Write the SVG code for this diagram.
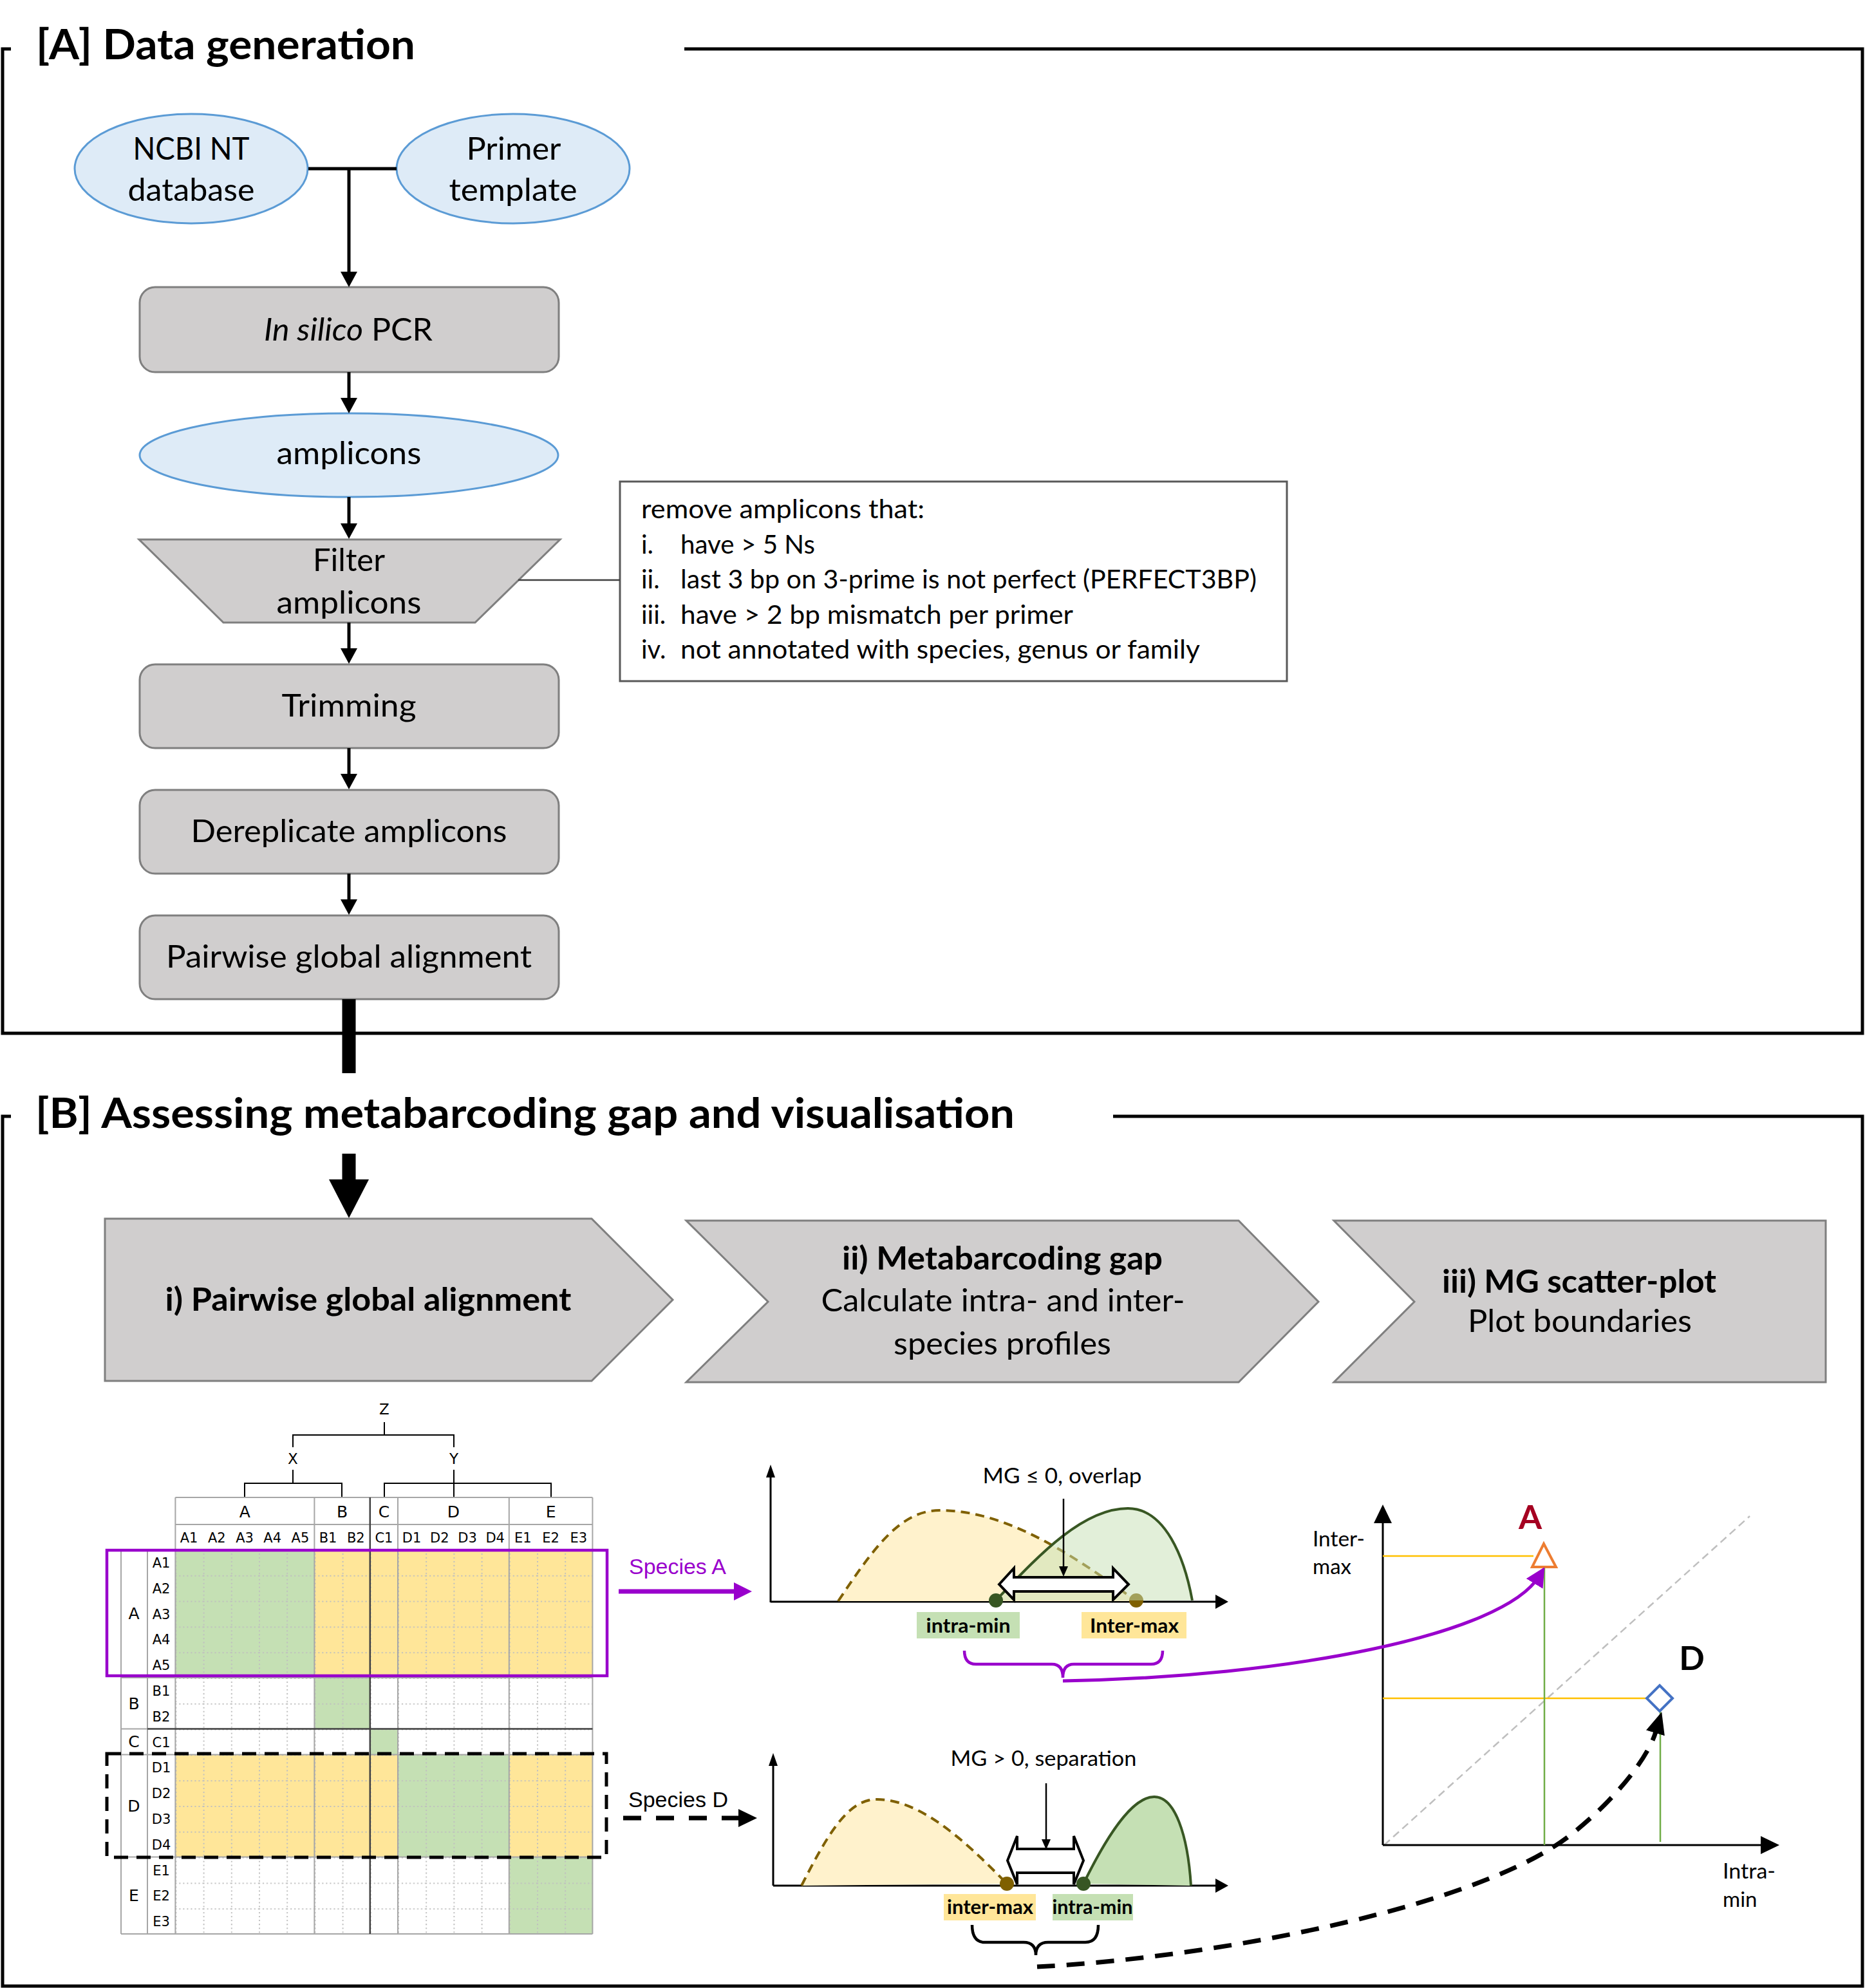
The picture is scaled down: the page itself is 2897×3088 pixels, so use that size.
<svg xmlns="http://www.w3.org/2000/svg" width="2897" height="3088" viewBox="0 0 2897 3088">
<style>
.f{font-family:Lato,'Open Sans',sans-serif;fill:#000}
.b{font-weight:bold}
.c{text-anchor:middle}
.n48{font-size:48px}
.frame{fill:none;stroke:#000;stroke-width:5}
.ell{fill:#DEEBF7;stroke:#5B9BD5;stroke-width:3}
.box{fill:#D0CECE;stroke:#7F7F7F;stroke-width:3}
.ln{stroke:#000;stroke-width:5;fill:none}
.hd{fill:#000}
.mx{font-family:'DejaVu Sans',sans-serif;font-size:21px;text-anchor:middle;fill:#000}
.mz{font-family:'DejaVu Sans',sans-serif;font-size:23px;text-anchor:middle;fill:#000}
.mg{font-family:'DejaVu Sans',sans-serif;font-size:25px;text-anchor:middle;fill:#000}
.gl{stroke:#A6A6A6;stroke-width:2;fill:none}
.dk{stroke:#404040;stroke-width:2.5;fill:none}
.ax{stroke:#000;stroke-width:3;fill:none}
.ar{font-family:'Liberation Sans',Arial,sans-serif;font-size:33px}
.lab{font-size:30px;font-weight:bold}
.t33{font-size:33px}
</style>
<defs>
<pattern id="grid" x="272.4" y="2407" width="43.2" height="39.8" patternUnits="userSpaceOnUse">
<path d="M0,1 H43.2 M1,0 V39.8" stroke="#BFBFBF" stroke-width="2" stroke-dasharray="2 4" fill="none"/>
</pattern>
<marker id="mp" markerUnits="userSpaceOnUse" markerWidth="30" markerHeight="30" viewBox="0 0 30 30" refX="14" refY="15" orient="auto">
<path d="M0,0 L30,15 L0,30 Z" fill="#9900CC"/>
</marker>
<marker id="mk" markerUnits="userSpaceOnUse" markerWidth="34" markerHeight="30" viewBox="0 0 34 30" refX="2" refY="15" orient="auto">
<path d="M0,0 L34,15 L0,30 Z" fill="#000"/>
</marker>
</defs>
<rect width="2897" height="3088" fill="#fff"/>

<!-- Frame A -->
<g id="frameA">
<path class="frame" d="M17,76 H4 V1605 H2893 V76 H1063"/>
<text class="f b" x="56" y="92" font-size="65" textLength="589" lengthAdjust="spacingAndGlyphs">[A] Data generation</text>
</g>

<g id="node-ncbi">
<ellipse class="ell" cx="297" cy="262" rx="181" ry="85"/>
<text class="f c n48" x="297" y="248" textLength="181" lengthAdjust="spacingAndGlyphs">NCBI NT</text>
<text class="f c n48" x="297" y="312" textLength="197" lengthAdjust="spacingAndGlyphs">database</text>
</g>
<g id="node-primer">
<ellipse class="ell" cx="797" cy="262" rx="181" ry="85"/>
<text class="f c n48" x="798" y="248" textLength="147" lengthAdjust="spacingAndGlyphs">Primer</text>
<text class="f c n48" x="797" y="312" textLength="199" lengthAdjust="spacingAndGlyphs">template</text>
</g>
<g id="node-pcr">
<rect class="box" x="217" y="446" width="651" height="132" rx="24"/>
<text class="f c n48" x="541" y="529" textLength="262" lengthAdjust="spacingAndGlyphs"><tspan font-style="italic">In silico</tspan> PCR</text>
</g>
<g id="node-amplicons">
<ellipse class="ell" cx="542" cy="707" rx="325" ry="65"/>
<text class="f c n48" x="542" y="721" textLength="225" lengthAdjust="spacingAndGlyphs">amplicons</text>
</g>
<g id="node-filter">
<polygon class="box" points="216,838 870,838 738,967 347,967"/>
<text class="f c n48" x="542" y="887" textLength="112" lengthAdjust="spacingAndGlyphs">Filter</text>
<text class="f c n48" x="542" y="953" textLength="225" lengthAdjust="spacingAndGlyphs">amplicons</text>
</g>
<g id="node-filter-note">
<rect x="963" y="748" width="1036" height="310" fill="#fff" stroke="#595959" stroke-width="3"/>
<g class="f" font-size="40">
<text x="996" y="805" textLength="440" lengthAdjust="spacingAndGlyphs">remove amplicons that:</text>
<text x="996" y="860">i.</text>
<text x="1057" y="860" textLength="209" lengthAdjust="spacingAndGlyphs">have &gt; 5 Ns</text>
<text x="996" y="914">ii.</text>
<text x="1057" y="914" textLength="895" lengthAdjust="spacingAndGlyphs">last 3 bp on 3-prime is not perfect (PERFECT3BP)</text>
<text x="996" y="969">iii.</text>
<text x="1057" y="969" textLength="610" lengthAdjust="spacingAndGlyphs">have &gt; 2 bp mismatch per primer</text>
<text x="996" y="1023">iv.</text>
<text x="1057" y="1023" textLength="807" lengthAdjust="spacingAndGlyphs">not annotated with species, genus or family</text>
</g>
</g>
<g id="node-trimming">
<rect class="box" x="217" y="1032" width="651" height="130" rx="24"/>
<text class="f c n48" x="542" y="1113" textLength="209" lengthAdjust="spacingAndGlyphs">Trimming</text>
</g>
<g id="node-dereplicate">
<rect class="box" x="217" y="1227" width="651" height="130" rx="24"/>
<text class="f c n48" x="542" y="1308" textLength="491" lengthAdjust="spacingAndGlyphs">Dereplicate amplicons</text>
</g>
<g id="node-pairwise">
<rect class="box" x="217" y="1422" width="651" height="130" rx="24"/>
<text class="f c n48" x="542" y="1503" textLength="568" lengthAdjust="spacingAndGlyphs">Pairwise global alignment</text>
</g>

<!-- Frame B -->
<g id="frameB">
<path class="frame" d="M17,1734 H4 V3085 H2893 V1734 H1729"/>
<text class="f b" x="55" y="1752" font-size="65" textLength="1521" lengthAdjust="spacingAndGlyphs">[B] Assessing metabarcoding gap and visualisation</text>
</g>

<g id="node-step1">
<polygon class="box" points="163,1893 919,1893 1045,2019 919,2145 163,2145"/>
<text class="f b c" x="572" y="2036" font-size="49" textLength="631" lengthAdjust="spacingAndGlyphs">i) Pairwise global alignment</text>
</g>
<g id="node-step2">
<polygon class="box" points="1066,1896 1924,1896 2048,2022 1924,2147 1066,2147 1193,2022"/>
<text class="f b c" x="1557" y="1972" font-size="49" textLength="498" lengthAdjust="spacingAndGlyphs">ii) Metabarcoding gap</text>
<text class="f c" x="1558" y="2037" font-size="49" textLength="565" lengthAdjust="spacingAndGlyphs">Calculate intra- and inter-</text>
<text class="f c" x="1557" y="2104" font-size="49" textLength="338" lengthAdjust="spacingAndGlyphs">species profiles</text>
</g>
<g id="node-step3">
<polygon class="box" points="2072,1896 2836,1896 2836,2147 2072,2147 2197,2022"/>
<text class="f b c" x="2453" y="2008" font-size="49" textLength="426" lengthAdjust="spacingAndGlyphs">iii) MG scatter-plot</text>
<text class="f c" x="2454" y="2069" font-size="49" textLength="348" lengthAdjust="spacingAndGlyphs">Plot boundaries</text>
</g>

<!-- Matrix -->
<g id="matrix">
<g stroke="#000" stroke-width="2" fill="none">
<path d="M597,2209 V2229 M455,2248 V2229 H705 V2248 M455,2283 V2304 M380,2325 V2304 H531 V2325 M705,2283 V2325 M597,2325 V2304 H856 V2325"/>
</g>
<text class="mz" x="597" y="2197">Z</text>
<text class="mz" x="455" y="2274">X</text>
<text class="mz" x="705" y="2274">Y</text>
<g stroke="none">
<rect x="272.4" y="2407" width="216" height="199" fill="#C5E0B4"/>
<rect x="488.4" y="2407" width="432" height="199" fill="#FFE699"/>
<rect x="488.4" y="2606" width="86.4" height="79.6" fill="#C5E0B4"/>
<rect x="574.8" y="2685.6" width="43.2" height="39.8" fill="#C5E0B4"/>
<rect x="272.4" y="2725.4" width="345.6" height="159.2" fill="#FFE699"/>
<rect x="618" y="2725.4" width="172.8" height="159.2" fill="#C5E0B4"/>
<rect x="790.8" y="2725.4" width="129.6" height="159.2" fill="#FFE699"/>
<rect x="790.8" y="2884.6" width="129.6" height="119.4" fill="#C5E0B4"/>
</g>
<rect x="272.4" y="2407" width="648" height="597" fill="url(#grid)"/>
<path class="gl" d="M272.4,2326 H920.4 M272.4,2368 H920.4 M272.4,2326 V3004 M488.4,2326 V3004 M618,2326 V3004 M790.8,2326 V3004 M920.4,2326 V3004 M188,2407 V3004 M229,2407 V3004 M188,2606 H920.4 M188,2725.4 H920.4 M188,2884.6 H920.4 M188,3004 H920.4 M188,2685.6 H229"/>
<path class="dk" d="M574.8,2326 V3004 M229,2685.6 H920.4"/>
<g>
<text class="mg" x="380.4" y="2357">A</text>
<text class="mg" x="531.6" y="2357">B</text>
<text class="mg" x="596.4" y="2357">C</text>
<text class="mg" x="704.4" y="2357">D</text>
<text class="mg" x="855.6" y="2357">E</text>
<text class="mx" x="293.6" y="2396">A1</text>
<text class="mx" x="336.8" y="2396">A2</text>
<text class="mx" x="380" y="2396">A3</text>
<text class="mx" x="423.2" y="2396">A4</text>
<text class="mx" x="466.4" y="2396">A5</text>
<text class="mx" x="509.6" y="2396">B1</text>
<text class="mx" x="552.8" y="2396">B2</text>
<text class="mx" x="596.4" y="2396">C1</text>
<text class="mx" x="639.6" y="2396">D1</text>
<text class="mx" x="682.8" y="2396">D2</text>
<text class="mx" x="726" y="2396">D3</text>
<text class="mx" x="769.2" y="2396">D4</text>
<text class="mx" x="812.4" y="2396">E1</text>
<text class="mx" x="855.6" y="2396">E2</text>
<text class="mx" x="898.8" y="2396">E3</text>
<text class="mg" x="208" y="2515">A</text>
<text class="mg" x="208" y="2655">B</text>
<text class="mg" x="208" y="2714">C</text>
<text class="mg" x="208" y="2814">D</text>
<text class="mg" x="208" y="2953">E</text>
<text class="mx" x="250.5" y="2435">A1</text>
<text class="mx" x="250.5" y="2475">A2</text>
<text class="mx" x="250.5" y="2515">A3</text>
<text class="mx" x="250.5" y="2554">A4</text>
<text class="mx" x="250.5" y="2594">A5</text>
<text class="mx" x="250.5" y="2634">B1</text>
<text class="mx" x="250.5" y="2674">B2</text>
<text class="mx" x="250.5" y="2714">C1</text>
<text class="mx" x="250.5" y="2753">D1</text>
<text class="mx" x="250.5" y="2793">D2</text>
<text class="mx" x="250.5" y="2833">D3</text>
<text class="mx" x="250.5" y="2873">D4</text>
<text class="mx" x="250.5" y="2913">E1</text>
<text class="mx" x="250.5" y="2952">E2</text>
<text class="mx" x="250.5" y="2992">E3</text>
</g>
<rect x="166" y="2408" width="777" height="195" fill="none" stroke="#9900CC" stroke-width="4.5"/>
<rect x="166" y="2724" width="776" height="161" fill="none" stroke="#000" stroke-width="5" stroke-dasharray="22 13"/>
</g>

<!-- Plot 1 -->
<g id="plot1">
<path class="ax" d="M1197,2489 V2293 M1197,2488 H1890"/>
<polygon class="hd" points="1197,2275 1190,2295 1204,2295"/>
<polygon class="hd" points="1908,2488 1888,2477 1888,2499"/>
<path d="M1302,2487 C1360,2400 1400,2346 1460,2346 C1560,2346 1660,2410 1765,2487 Z" fill="#FFF2CC"/>
<path d="M1302,2487 C1360,2400 1400,2346 1460,2346 C1560,2346 1660,2410 1765,2487" fill="none" stroke="#7F6000" stroke-width="4" stroke-dasharray="14 9"/>
<circle cx="1765" cy="2486" r="11" fill="#7F6000"/>
<path d="M1547,2486 C1610,2420 1680,2343 1752,2343 C1810,2343 1840,2420 1852,2486 Z" fill="#C5E0B4" fill-opacity="0.5"/>
<path d="M1547,2486 C1610,2420 1680,2343 1752,2343 C1810,2343 1840,2420 1852,2486" fill="none" stroke="#385723" stroke-width="4"/>
<circle cx="1547" cy="2486" r="11" fill="#375623"/>
<polygon points="1552,2461 1575,2436 1575,2450 1729,2450 1729,2436 1753,2461 1729,2485 1729,2472 1575,2472 1575,2485" fill="#fff" stroke="#000" stroke-width="4" stroke-linejoin="miter"/>
<path d="M1652,2328 V2436" stroke="#000" stroke-width="2.5"/>
<polygon class="hd" points="1652,2449 1645,2433 1659,2433"/>
<text class="f c t33" x="1650" y="2304" textLength="247" lengthAdjust="spacingAndGlyphs">MG ≤ 0, overlap</text>
<rect x="1424" y="2504" width="160" height="41" fill="#C5E0B4"/>
<text class="f c lab" x="1504" y="2536" textLength="131" lengthAdjust="spacingAndGlyphs">intra-min</text>
<rect x="1680" y="2504" width="163" height="41" fill="#FFE699"/>
<text class="f c lab" x="1762" y="2536" textLength="138" lengthAdjust="spacingAndGlyphs">Inter-max</text>
<path d="M1498,2564 Q1498,2585 1516,2585 H1634 Q1651,2585 1651,2606 Q1651,2585 1668,2585 H1788 Q1806,2585 1806,2564" fill="none" stroke="#9900CC" stroke-width="4.5"/>
</g>

<!-- Plot 2 -->
<g id="plot2">
<path class="ax" d="M1201,2929 V2740 M1201,2929 H1890"/>
<polygon class="hd" points="1201,2723 1194,2743 1208,2743"/>
<polygon class="hd" points="1908,2929 1888,2918 1888,2940"/>
<path d="M1245,2929 C1290,2840 1320,2795 1362,2795 C1430,2795 1500,2860 1564,2926 Z" fill="#FFF2CC"/>
<path d="M1245,2929 C1290,2840 1320,2795 1362,2795 C1430,2795 1500,2860 1564,2926" fill="none" stroke="#7F6000" stroke-width="4" stroke-dasharray="14 9"/>
<path d="M1683,2926 C1730,2830 1765,2791 1793,2791 C1825,2791 1845,2850 1850,2929 Z" fill="#C5E0B4"/>
<path d="M1683,2926 C1730,2830 1765,2791 1793,2791 C1825,2791 1845,2850 1850,2929" fill="none" stroke="#385723" stroke-width="4"/>
<circle cx="1564" cy="2926" r="11" fill="#7F6000"/>
<circle cx="1683" cy="2926" r="11" fill="#375623"/>
<polygon points="1565,2890 1580,2852 1580,2872 1668,2872 1668,2852 1683,2890 1668,2927 1668,2909 1580,2909 1580,2927" fill="#fff" stroke="#000" stroke-width="4"/>
<path d="M1625,2770 V2860" stroke="#000" stroke-width="2.5"/>
<polygon class="hd" points="1625,2873 1618,2857 1632,2857"/>
<text class="f c t33" x="1621" y="2743" textLength="289" lengthAdjust="spacingAndGlyphs">MG &gt; 0, separation</text>
<rect x="1466" y="2942" width="143" height="41" fill="#FFE699"/>
<text class="f c lab" x="1538" y="2973" textLength="134" lengthAdjust="spacingAndGlyphs">inter-max</text>
<rect x="1635" y="2942" width="125" height="41" fill="#C5E0B4"/>
<text class="f c lab" x="1697" y="2973" textLength="125" lengthAdjust="spacingAndGlyphs">intra-min</text>
<path d="M1510,2990 Q1510,3017 1530,3017 H1590 Q1609,3017 1609,3037 Q1609,3017 1628,3017 H1686 Q1706,3017 1706,2990" fill="none" stroke="#000" stroke-width="4.5"/>
</g>

<!-- Scatter plot -->
<g id="scatter">
<path d="M2150,2866 L2718,2355" stroke="#BFBFBF" stroke-width="2.5" stroke-dasharray="12 7"/>
<path class="ax" d="M2148,2866 V2362 M2148,2866 H2740"/>
<polygon class="hd" points="2148,2337 2134,2366 2162,2366"/>
<polygon class="hd" points="2764,2866 2735,2852 2735,2880"/>
<path d="M2148,2417 H2382 M2148,2638 H2560" stroke="#FFC000" stroke-width="2.5"/>
<path d="M2399,2436 V2866 M2579,2658 V2861" stroke="#70AD47" stroke-width="2.5"/>
<polygon points="2398,2398 2380,2434 2417,2434" fill="#fff" stroke="#ED7D31" stroke-width="4"/>
<polygon points="2578,2618 2598,2638 2578,2658 2558,2638" fill="#fff" stroke="#4472C4" stroke-width="4"/>
<text class="f b c" x="2377" y="2375" font-size="52" style="fill:#A50021">A</text>
<text class="f b c" x="2628" y="2594" font-size="52">D</text>
<text class="f t33" x="2039" y="2402" textLength="81" lengthAdjust="spacingAndGlyphs">Inter-</text>
<text class="f t33" x="2039" y="2445">max</text>
<text class="f t33" x="2676" y="2918" textLength="82" lengthAdjust="spacingAndGlyphs">Intra-</text>
<text class="f t33" x="2676" y="2962">min</text>
</g>

<!-- Connectors -->
<g id="connectors">
<path class="ln" d="M479,262 H616 M542,262 V428"/>
<polygon class="hd" points="529,422 555,422 542,446"/>
<path class="ln" d="M542,578 V622"/>
<polygon class="hd" points="529,618 555,618 542,642"/>
<path class="ln" d="M542,772 V817"/>
<polygon class="hd" points="529,813 555,813 542,837"/>
<path class="ln" d="M542,967 V1011"/>
<polygon class="hd" points="529,1007 555,1007 542,1031"/>
<path class="ln" d="M542,1162 V1206"/>
<polygon class="hd" points="529,1202 555,1202 542,1226"/>
<path class="ln" d="M542,1357 V1401"/>
<polygon class="hd" points="529,1397 555,1397 542,1421"/>
<path d="M805,901 H963" stroke="#404040" stroke-width="2.5"/>
<path d="M542,1552 V1667 M542,1792 V1834" stroke="#000" stroke-width="21"/>
<polygon class="hd" points="511,1832 573,1832 542,1892"/>
<path d="M961,2472 H1142" stroke="#9900CC" stroke-width="7"/>
<polygon points="1140,2458 1168,2472 1140,2486" fill="#9900CC"/>
<text class="ar" x="977" y="2445" fill="#9900CC" textLength="151" lengthAdjust="spacingAndGlyphs">Species A</text>
<path d="M968,2824 H1147" stroke="#000" stroke-width="7" stroke-dasharray="28 23"/>
<polygon class="hd" points="1147,2810 1176,2824 1147,2838"/>
<text class="ar" x="976" y="2807" textLength="155" lengthAdjust="spacingAndGlyphs">Species D</text>
<path d="M1651,2611 C2000,2605 2335,2540 2391,2448" fill="none" stroke="#9900CC" stroke-width="5" marker-end="url(#mp)"/>
<path d="M1611,3055 C1900,3040 2300,2960 2440,2850 C2510,2795 2560,2730 2572,2690" fill="none" stroke="#000" stroke-width="7" stroke-dasharray="28 18" marker-end="url(#mk)"/>
</g>
</svg>
